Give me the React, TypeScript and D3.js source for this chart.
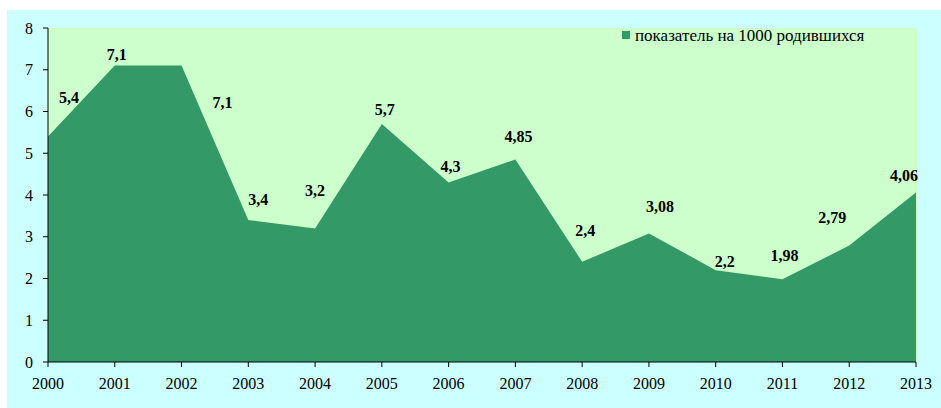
import React from "react";
import * as d3 from "d3";

const years = [2000, 2001, 2002, 2003, 2004, 2005, 2006, 2007, 2008, 2009, 2010, 2011, 2012, 2013];
const values = [5.4, 7.1, 7.1, 3.4, 3.2, 5.7, 4.3, 4.85, 2.4, 3.08, 2.2, 1.98, 2.79, 4.06];
const valueLabels = ["5,4", "7,1", "7,1", "3,4", "3,2", "5,7", "4,3", "4,85", "2,4", "3,08", "2,2", "1,98", "2,79", "4,06"];
const yTicks = [0, 1, 2, 3, 4, 5, 6, 7, 8];
const seriesName = "показатель на 1000 родившихся";

// label nudges (dx, dy of label centre from the point), as placed in the original
const labelNudge: [number, number][] = [
  [21, -39], [2, -11], [41, 37], [10, -21], [0, -38], [3, -15], [2, -15.5],
  [3, -23.5], [3, -31], [11, -27], [9, -9], [2, -24], [-17, -28.5], [-12, -16.5],
];

const W = 941;
const H = 408;
const plot = { left: 48, right: 917, top: 28, bottom: 362 };
const font = "'Liberation Serif', 'Times New Roman', serif";

export default function App() {
  const x = d3.scaleLinear().domain([2000, 2013]).range([plot.left, 916]);
  const y = d3.scaleLinear().domain([0, 8]).range([plot.bottom, plot.top]);

  const area = d3
    .area<number>()
    .x((_, i) => x(years[i]))
    .y0(y(0))
    .y1((d) => y(d));

  return (
    <svg width={W} height={H} style={{ position: "absolute", left: 0, top: 0 }}>
      <rect x={7} y={10} width={W - 7} height={H - 10} fill="#ccffff" />
      <rect
        x={plot.left}
        y={plot.top}
        width={plot.right - plot.left}
        height={plot.bottom - plot.top}
        fill="#ccffcc"
      />
      <path d={area(values) || ""} fill="#339966" />

      {/* y axis */}
      <line x1={plot.left} x2={plot.left} y1={plot.top} y2={plot.bottom} stroke="#000" />
      {yTicks.map((t) => (
        <g key={t}>
          <line x1={plot.left - 5} x2={plot.left} y1={y(t)} y2={y(t)} stroke="#000" />
          <text
            x={plot.left - 15}
            y={y(t) + 5.5}
            textAnchor="end"
            fontFamily={font}
            fontSize={16}
            fill="#000"
          >
            {t}
          </text>
        </g>
      ))}

      {/* x axis */}
      <line x1={plot.left} x2={x(2013)} y1={plot.bottom} y2={plot.bottom} stroke="#000" />
      {years.map((yr) => (
        <g key={yr}>
          <line x1={x(yr)} x2={x(yr)} y1={plot.bottom} y2={plot.bottom + 5} stroke="#000" />
          <text
            x={x(yr)}
            y={plot.bottom + 27}
            textAnchor="middle"
            fontFamily={font}
            fontSize={16}
            fill="#000"
          >
            {yr}
          </text>
        </g>
      ))}

      {/* data labels */}
      {values.map((v, i) => (
        <text
          key={i}
          x={x(years[i]) + labelNudge[i][0]}
          y={y(v) + labelNudge[i][1] + 5.5}
          textAnchor="middle"
          fontFamily={font}
          fontSize={16}
          fontWeight="bold"
          fill="#000"
        >
          {valueLabels[i]}
        </text>
      ))}

      {/* legend */}
      <rect x={622} y={31} width={8} height={8} fill="#339966" />
      <text x={635} y={41} fontFamily={font} fontSize={17} fill="#000">
        {seriesName}
      </text>
    </svg>
  );
}
